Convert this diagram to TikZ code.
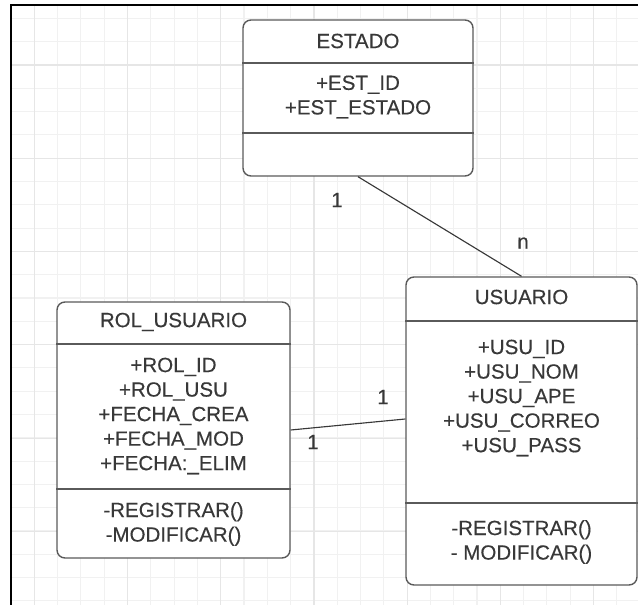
\documentclass[tikz,border=0pt]{standalone}
\usepackage{fontspec}
\setmainfont{Liberation Sans}[FakeBold=0.3]
\definecolor{gridminor}{HTML}{F1F1F1}
\definecolor{gridmajor}{HTML}{E6E6E6}
\definecolor{boxgray}{HTML}{5A5A5A}
\definecolor{txtgray}{HTML}{383838}
\begin{document}
\begin{tikzpicture}[x=0.75pt,y=-0.75pt,
  umlbox/.style={draw=boxgray, fill=white, rounded corners=6pt, line width=1.05pt, inner sep=0pt},
  sepline/.style={draw=boxgray, line width=1.05pt},
  txt/.style={text=txtgray, font=\fontsize{15.4}{18.4}\selectfont, align=center, inner sep=0pt},
  mult/.style={text=txtgray, font=\fontsize{15.4}{18.4}\selectfont, inner sep=0pt},
  assoc/.style={draw=txtgray, line width=0.85pt},
  minorline/.style={draw=gridminor, line width=0.8pt},
  majorline/.style={draw=gridmajor, line width=0.9pt}]
\useasboundingbox (0,0) rectangle (638,605);
\clip (0,0) rectangle (638,605);

% background grid
\foreach \i in {-1,...,26}
  \draw[minorline] ({34.3+23.3*\i},5) -- ({34.3+23.3*\i},605);
\foreach \j in {-2,...,23}
  \draw[minorline] (11,{65+23.3*\j}) -- (638,{65+23.3*\j});
\foreach \i in {0,...,6}
  \draw[majorline] ({34.3+93.2*\i},5) -- ({34.3+93.2*\i},605);
\foreach \j in {0,...,5}
  \draw[majorline] (11,{65+93.3*\j}) -- (638,{65+93.3*\j});

% outer frame
\draw[black, line width=1.6pt] (11,640) -- (11,5) -- (660,5);

% class boxes
\node[umlbox, minimum width=172.5pt, minimum height=117pt] (estado) at (358,98) {};
\node[umlbox, minimum width=174.75pt, minimum height=192pt] (rol) at (173.5,430) {};
\node[umlbox, minimum width=173.25pt, minimum height=231pt] (usuario) at (521.5,431) {};

% compartment separators
\draw[sepline] (estado.west |- 0,63) -- (estado.east |- 0,63);
\draw[sepline] (estado.west |- 0,133) -- (estado.east |- 0,133);
\draw[sepline] (rol.west |- 0,344) -- (rol.east |- 0,344);
\draw[sepline] (rol.west |- 0,489) -- (rol.east |- 0,489);
\draw[sepline] (usuario.west |- 0,321) -- (usuario.east |- 0,321);
\draw[sepline] (usuario.west |- 0,503) -- (usuario.east |- 0,503);

% ESTADO
\node[txt] (estT) at (358,41) {ESTADO};
\node[txt] (estA) at (358,97) {+EST\_ID\\+EST\_ESTADO};

% ROL_USUARIO
\node[txt] (rolT) at (173.5,322) {ROL\_USUARIO};
\node[txt] (rolA) at (173.5,416) {+ROL\_ID\\+ROL\_USU\\+FECHA\_CREA\\+FECHA\_MOD\\+FECHA:\_ELIM};
\node[txt] (rolM) at (173.5,524) {-REGISTRAR()\\-MODIFICAR()};

% USUARIO
\node[txt] (usuT) at (521.5,297) {USUARIO};
\node[txt] (usuA) at (521.5,398) {+USU\_ID\\+USU\_NOM\\+USU\_APE\\+USU\_CORREO\\+USU\_PASS};
\node[txt] (usuM) at (521.5,542) {-REGISTRAR()\\- MODIFICAR()};

% associations
\draw[assoc] (estado.south) -- (usuario.north);
\draw[assoc] (rol.east) -- ([yshift=9pt]usuario.west);

% multiplicities
\node[mult] (m1) at (337,200) {1};
\node[mult] (m2) at (523,243) {n};
\node[mult] (m3) at (383,397) {1};
\node[mult] (m4) at (313,442) {1};
\end{tikzpicture}
\end{document}
